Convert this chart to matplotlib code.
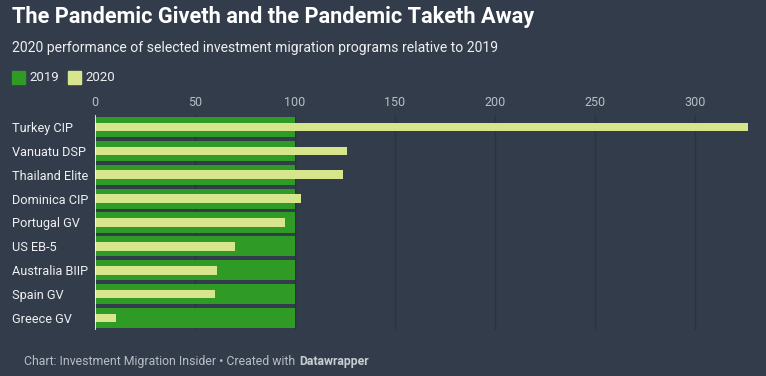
import matplotlib.pyplot as plt
from matplotlib.patches import Rectangle

programs = ['Turkey CIP', 'Vanuatu DSP', 'Thailand Elite', 'Dominica CIP', 'Portugal GV',
            'US EB-5', 'Australia BIIP', 'Spain GV', 'Greece GV']
values_2019 = [100, 100, 100, 100, 100, 100, 100, 100, 100]
values_2020 = [326.5, 126, 124, 103, 95, 70, 61, 60, 10.5]
ticks = [0, 50, 100, 150, 200, 250, 300]

bg = '#333c4a'
green = '#2f9a25'
light = '#d7e68c'

plt.rcParams['font.family'] = ['Roboto', 'DejaVu Sans']

fig = plt.figure(figsize=(7.66, 3.76), dpi=100, facecolor=bg)
ax = fig.add_axes([95 / 766, 1 - 330 / 376, 653 / 766, 215 / 376])
ax.set_facecolor(bg)

y = list(range(len(programs)))
ax.barh(y, values_2019, height=0.84, color=green, zorder=2)
ax.barh(y, values_2020, height=0.36, color=light, zorder=3)

ax.set_xlim(0, 326.5)
ax.set_ylim(len(programs) - 0.5, -0.5)
ax.set_xticks(ticks)
ax.set_xticklabels([str(t) for t in ticks])
ax.xaxis.tick_top()
ax.tick_params(axis='x', length=0, colors='#b8bec6', labelsize=9, pad=4)
ax.set_yticks(y)
ax.set_yticklabels(programs)
ax.tick_params(axis='y', length=0, colors='#eef0f2', labelsize=9.2, pad=0)
for lab in ax.get_yticklabels():
    lab.set_horizontalalignment('left')
    lab.set_x(-83 / 653)
for s in ax.spines.values():
    s.set_visible(False)
ax.grid(axis='x', color='#2b333f', linewidth=1, zorder=1)
ax.axvline(0, color='white', linewidth=1.2, zorder=4)

fig.text(12 / 766, 1 - 17 / 376, 'The Pandemic Giveth and the Pandemic Taketh Away',
         color='white', fontsize=15.7, fontweight='bold', va='center')
fig.text(12 / 766, 1 - 48 / 376, '2020 performance of selected investment migration programs relative to 2019',
         color='#eef0f2', fontsize=10.05, va='center')

fig.patches.append(Rectangle((12 / 766, 1 - 84 / 376), 13 / 766, 13 / 376,
                             transform=fig.transFigure, color=green))
fig.text(29 / 766, 1 - 77.5 / 376, '2019', color='#eef0f2', fontsize=9.5, va='center')
fig.patches.append(Rectangle((68 / 766, 1 - 84 / 376), 13 / 766, 13 / 376,
                             transform=fig.transFigure, color=light))
fig.text(85 / 766, 1 - 77.5 / 376, '2020', color='#eef0f2', fontsize=9.5, va='center')

foot = fig.text(24 / 766, 1 - 362 / 376, 'Chart: Investment Migration Insider \u2022 Created with',
                color='#b8bec6', fontsize=8.8, va='center')
fig.canvas.draw()
bb = foot.get_window_extent()
fig.text((bb.x1 + 4) / 766, 1 - 362 / 376, 'Datawrapper', color='#c8cdd3', fontsize=8.8,
         fontweight='bold', va='center')

plt.savefig('out.png', dpi=100, facecolor=bg)
